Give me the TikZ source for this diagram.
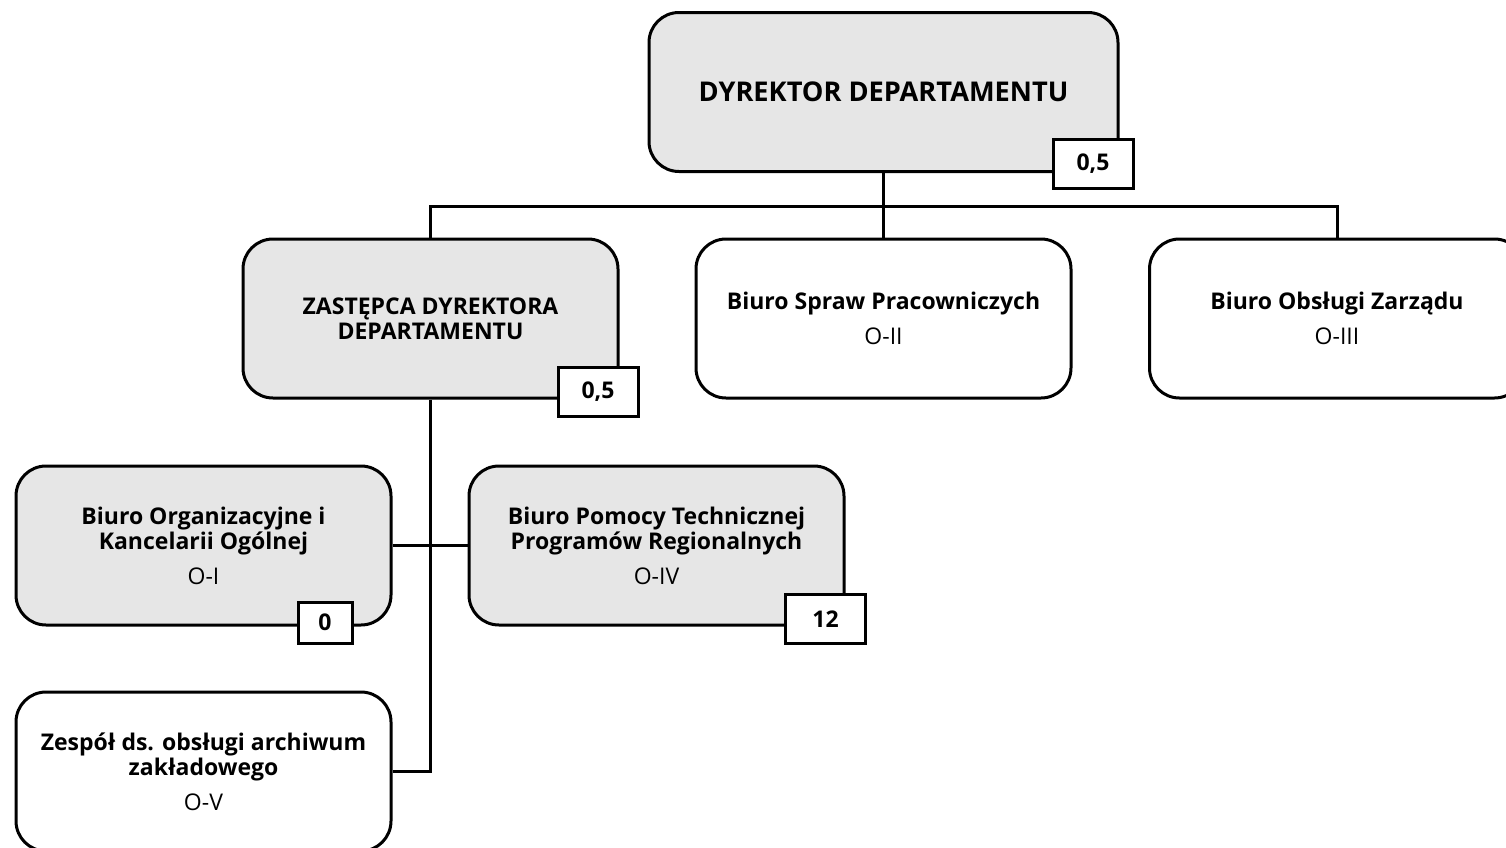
\documentclass[tikz,border=0pt]{standalone}
\usepackage{fontspec}
\setmainfont{Open Sans}
\definecolor{boxgray}{HTML}{E6E6E6}
\begin{document}
\begin{tikzpicture}[x=0.5pt,y=-0.5pt,
  unit/.style={draw=black, line width=1.5pt, rounded corners=15pt, minimum width=187.5pt, minimum height=79.5pt, align=center, inner sep=0pt, font=\fontsize{11.5}{12.5}\selectfont\bfseries},
  grayunit/.style={unit, fill=boxgray},
  whiteunit/.style={unit, fill=white},
  badge/.style={draw=black, line width=1.5pt, fill=white, minimum width=40pt, minimum height=24.5pt, inner sep=0pt, font=\fontsize{11.5}{14}\selectfont\bfseries},
  conn/.style={line width=1.5pt}]
\useasboundingbox (0,0) rectangle (1506,847);
\clip (0,0) rectangle (1506,847);
\newcommand{\codeline}[1]{\\[5pt]{\mdseries #1}}
% boxes
\node[grayunit, minimum width=234.5pt, font=\fontsize{13.6}{14}\selectfont\bfseries] (dir) at (883.5,92) {DYREKTOR DEPARTAMENTU};
\node[grayunit] (zast) at (430.5,318.5) {ZASTĘPCA DYREKTORA\\DEPARTAMENTU};
\node[whiteunit] (sp) at (883.5,318.5) {Biuro Spraw Pracowniczych\codeline{O-II}};
\node[whiteunit] (obs) at (1337,318.5) {Biuro Obsługi Zarządu\codeline{O-III}};
\node[grayunit] (org) at (203.5,545.5) {Biuro Organizacyjne i\\Kancelarii Ogólnej\codeline{O-I}};
\node[grayunit] (pom) at (656.5,545.5) {Biuro Pomocy Technicznej\\Programów Regionalnych\codeline{O-IV}};
\node[whiteunit] (zesp) at (203.5,771.5) {Zespół ds. obsługi archiwum\\zakładowego\codeline{O-V}};
% connectors
\coordinate (busl) at (430.5,206);
\coordinate (zend) at (430.5,771.5);
\draw[conn] (dir.south) -- (sp.north);
\draw[conn] (zast.north) |- (busl) -| (obs.north);
\draw[conn] (zast.south) -- (zend) -- (zesp.east);
\draw[conn] (org.east) -- (pom.west);
% badges
\node[badge] (b1) at (1093,163.5) {0,5};
\node[badge] (b2) at (598,392) {0,5};
\node[badge, minimum width=27pt, minimum height=20.5pt] (b3) at (325,622.5) {0};
\node[badge] (b4) at (825.5,619) {12};
\end{tikzpicture}
\end{document}
